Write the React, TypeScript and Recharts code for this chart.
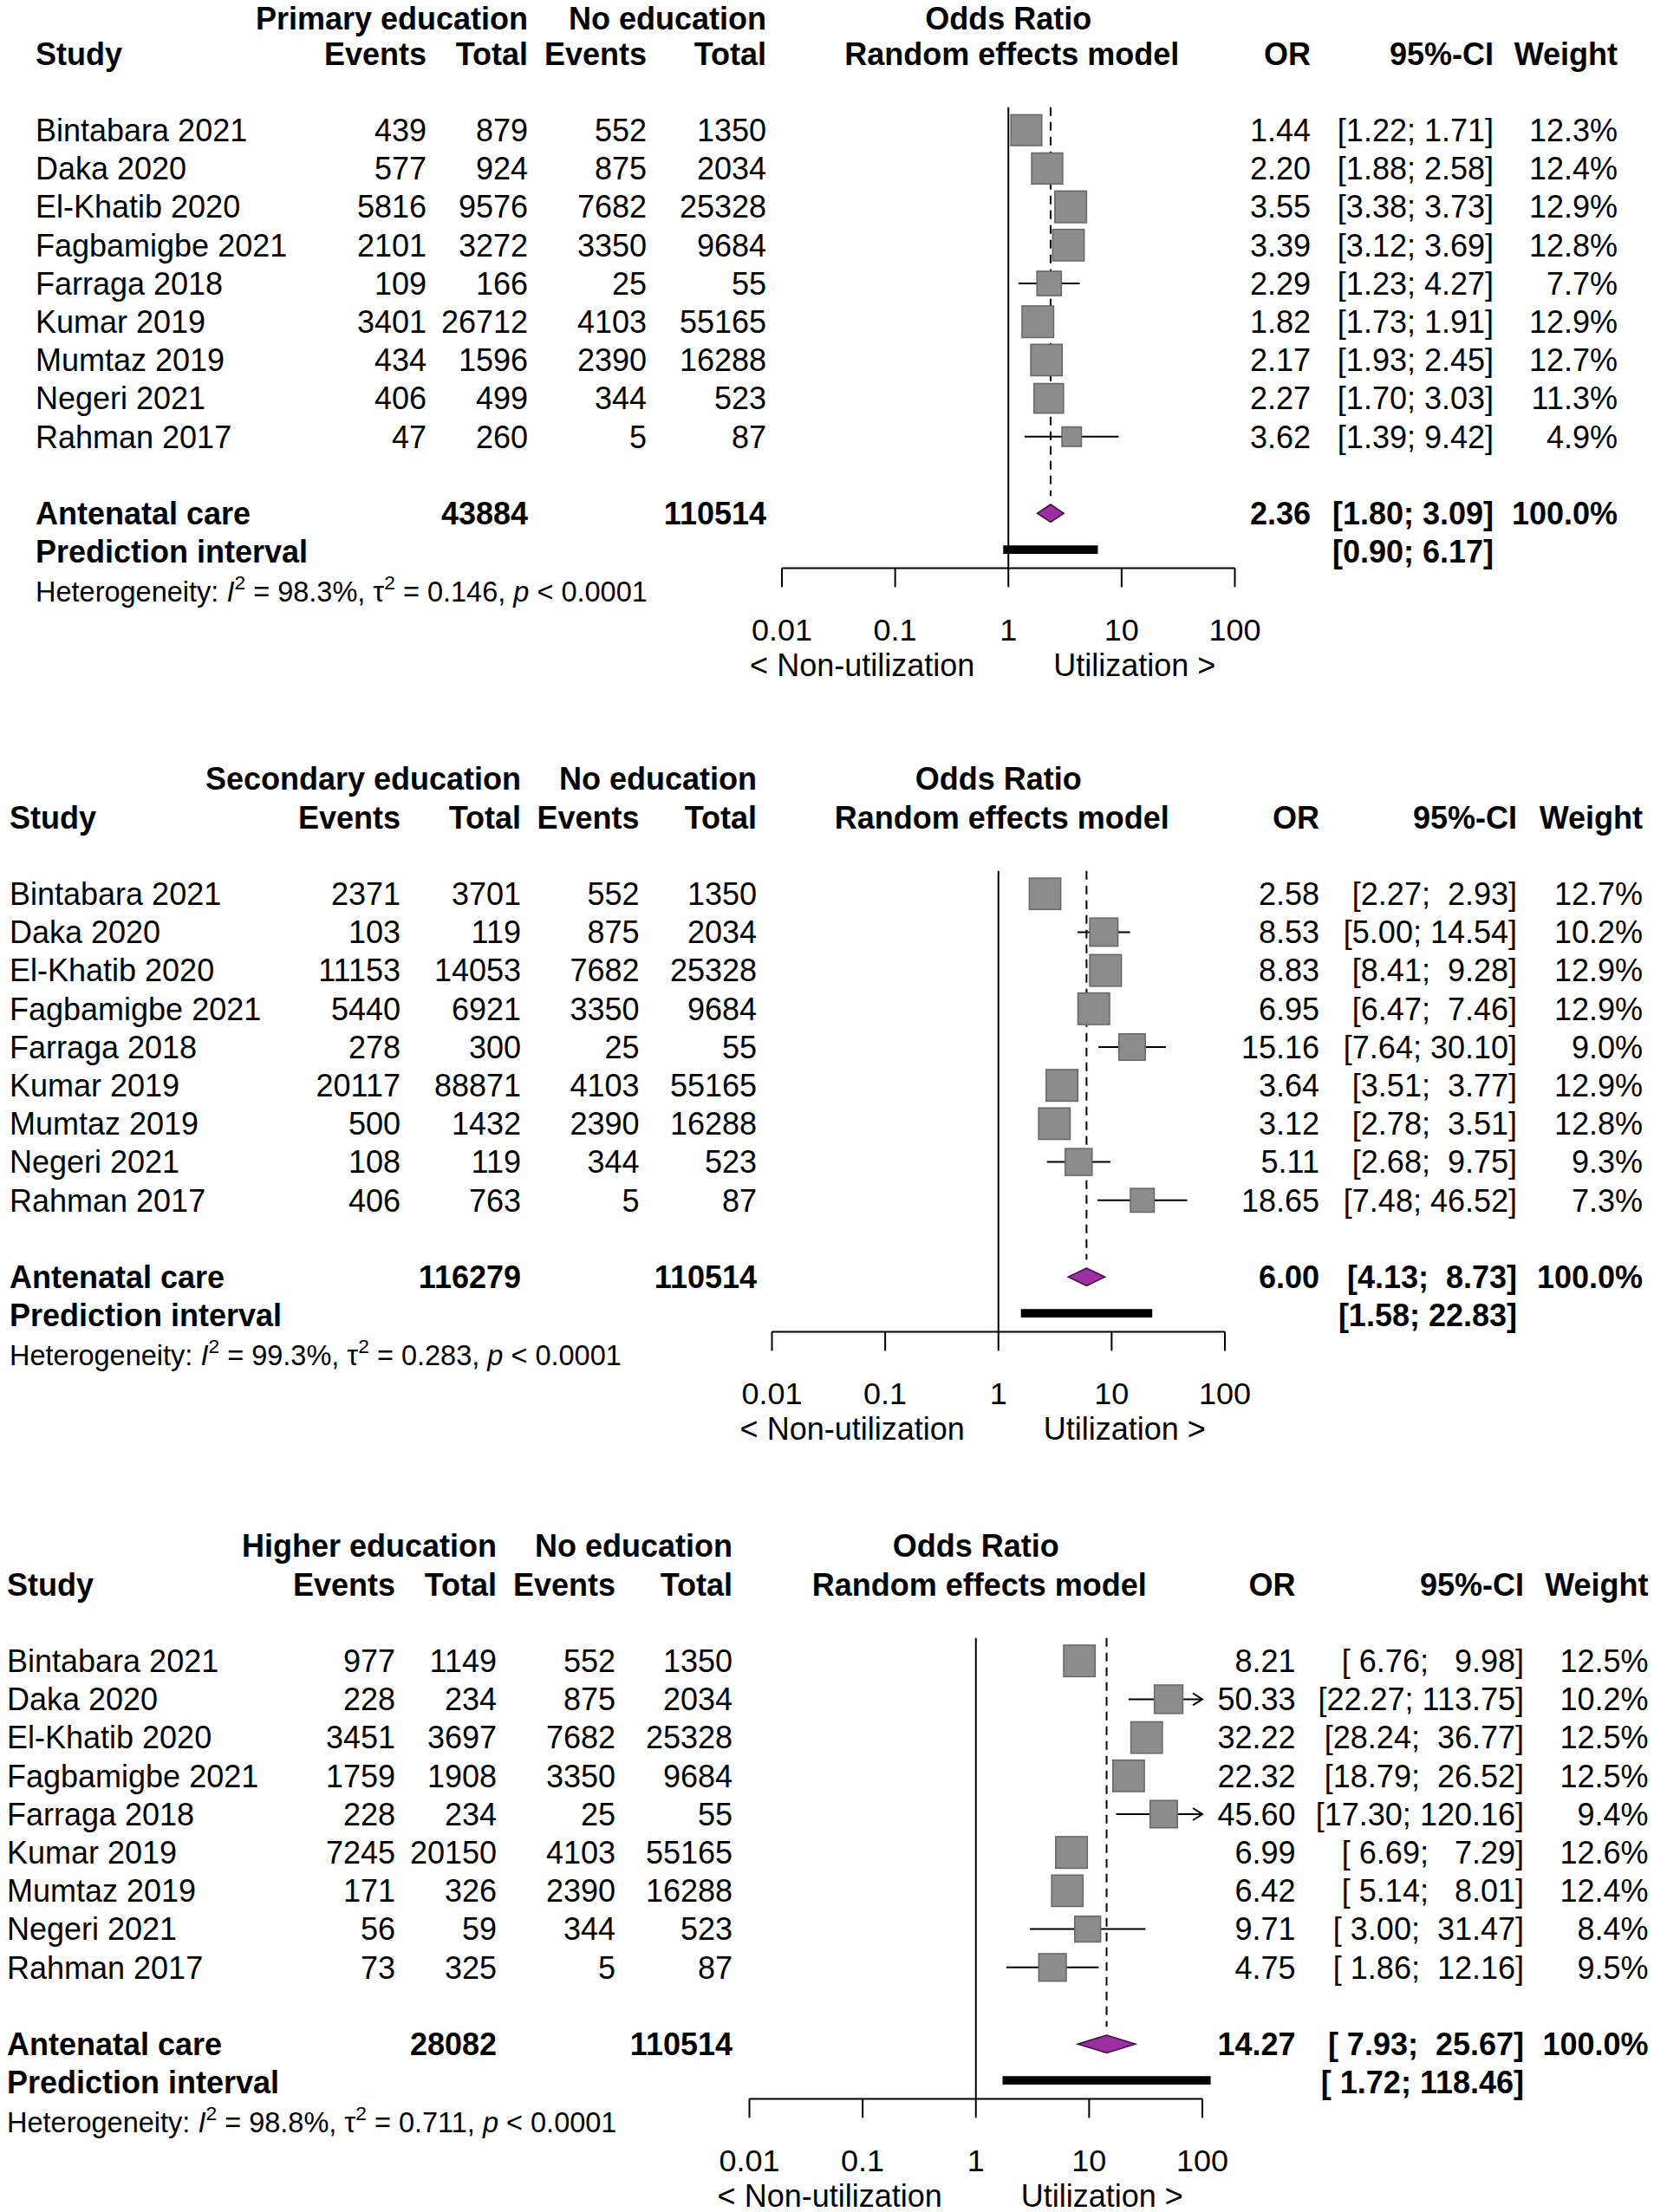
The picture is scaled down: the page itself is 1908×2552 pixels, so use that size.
import React from 'react';
import { ComposedChart, XAxis, YAxis, Scatter, ReferenceLine, ReferenceArea } from 'recharts';

const FONT = '"Liberation Sans", Arial, Helvetica, sans-serif';
const FS = 36;
const PITCH = 44.2;
const PURPLE = '#9c30a0';

const studies = [
  'Bintabara 2021', 'Daka 2020', 'El-Khatib 2020', 'Fagbamigbe 2021', 'Farraga 2018',
  'Kumar 2019', 'Mumtaz 2019', 'Negeri 2021', 'Rahman 2017',
];
const noEduEvents = [552, 875, 7682, 3350, 25, 4103, 2390, 344, 5];
const noEduTotal = [1350, 2034, 25328, 9684, 55, 55165, 16288, 523, 87];
const xTicks = [0.01, 0.1, 1, 10, 100];

// primary education
const primEvents = [439, 577, 5816, 2101, 109, 3401, 434, 406, 47];
const primTotal = [879, 924, 9576, 3272, 166, 26712, 1596, 499, 260];
const primOR = [1.44, 2.2, 3.55, 3.39, 2.29, 1.82, 2.17, 2.27, 3.62];
const primLo = [1.22, 1.88, 3.38, 3.12, 1.23, 1.73, 1.93, 1.7, 1.39];
const primHi = [1.71, 2.58, 3.73, 3.69, 4.27, 1.91, 2.45, 3.03, 9.42];
const primWeight = [12.3, 12.4, 12.9, 12.8, 7.7, 12.9, 12.7, 11.3, 4.9];
const primSummary = { or: 2.36, lo: 1.8, hi: 3.09, tot1: 43884, tot0: 110514, piLo: 0.9, piHi: 6.17, i2: '98.3%', tau2: '0.146' };

// secondary education
const secEvents = [2371, 103, 11153, 5440, 278, 20117, 500, 108, 406];
const secTotal = [3701, 119, 14053, 6921, 300, 88871, 1432, 119, 763];
const secOR = [2.58, 8.53, 8.83, 6.95, 15.16, 3.64, 3.12, 5.11, 18.65];
const secLo = [2.27, 5.0, 8.41, 6.47, 7.64, 3.51, 2.78, 2.68, 7.48];
const secHi = [2.93, 14.54, 9.28, 7.46, 30.1, 3.77, 3.51, 9.75, 46.52];
const secWeight = [12.7, 10.2, 12.9, 12.9, 9.0, 12.9, 12.8, 9.3, 7.3];
const secSummary = { or: 6.0, lo: 4.13, hi: 8.73, tot1: 116279, tot0: 110514, piLo: 1.58, piHi: 22.83, i2: '99.3%', tau2: '0.283' };

// higher education
const highEvents = [977, 228, 3451, 1759, 228, 7245, 171, 56, 73];
const highTotal = [1149, 234, 3697, 1908, 234, 20150, 326, 59, 325];
const highOR = [8.21, 50.33, 32.22, 22.32, 45.6, 6.99, 6.42, 9.71, 4.75];
const highLo = [6.76, 22.27, 28.24, 18.79, 17.3, 6.69, 5.14, 3.0, 1.86];
const highHi = [9.98, 113.75, 36.77, 26.52, 120.16, 7.29, 8.01, 31.47, 12.16];
const highWeight = [12.5, 10.2, 12.5, 12.5, 9.4, 12.6, 12.4, 8.4, 9.5];
const highSummary = { or: 14.27, lo: 7.93, hi: 25.67, tot1: 28082, tot0: 110514, piLo: 1.72, piHi: 118.46, i2: '98.8%', tau2: '0.711' };

const panels = [
  {
    group: 'Primary education', events: primEvents, total: primTotal, or: primOR, lo: primLo, hi: primHi, weight: primWeight, summary: primSummary,
    row0: 150, head1: -2.92, x001: 902, x100: 1424.5, studyX: 41, ev1: 492, tot1: 609, ev0: 746, tot0: 884, orR: 1512, ciR: 1723, wR: 1866,
  },
  {
    group: 'Secondary education', events: secEvents, total: secTotal, or: secOR, lo: secLo, hi: secHi, weight: secWeight, summary: secSummary,
    row0: 1031, head1: -3, x001: 890.5, x100: 1413, studyX: 11, ev1: 462, tot1: 601, ev0: 737.5, tot0: 873, orR: 1522, ciR: 1750, wR: 1895,
  },
  {
    group: 'Higher education', events: highEvents, total: highTotal, or: highOR, lo: highLo, hi: highHi, weight: highWeight, summary: highSummary,
    row0: 1916, head1: -3, x001: 864.5, x100: 1387, studyX: 8, ev1: 456, tot1: 573, ev0: 710, tot0: 845, orR: 1494.5, ciR: 1758, wR: 1901.5,
  },
];

type Panel = (typeof panels)[number];

const Y_MIN = -1;
const AXIS_Y = 11.43;
const X_AXIS_H = 130;
const SQ = 36.5;

const SquareShape = (props: any) => {
  const { cx, cy, payload } = props;
  const s = SQ * Math.sqrt(payload.w / payload.wmax);
  return <rect x={cx - s / 2} y={cy - s / 2} width={s} height={s} fill="#8c8c8c" stroke="#666" strokeWidth={1.5} />;
};

const ArrowLine = (props: any) => {
  const { x1, y1, x2, y2 } = props;
  return (
    <g>
      <line x1={x1} y1={y1} x2={x2} y2={y2} stroke="#000" strokeWidth={2} />
      <polyline points={`${x2 - 11},${y2 - 7} ${x2},${y2} ${x2 - 11},${y2 + 7}`} fill="none" stroke="#000" strokeWidth={2} />
    </g>
  );
};

const DiamondShape = (props: any) => {
  const { x, y, width, height } = props;
  const cx = x + width / 2;
  const cy = y + height / 2;
  return (
    <polygon
      points={`${x},${cy} ${cx},${y} ${x + width},${cy} ${cx},${y + height}`}
      fill={PURPLE}
      stroke="#3d0c3f"
      strokeWidth={1.5}
    />
  );
};

const AxisTick = (props: any) => {
  const { x, y, payload } = props;
  return (
    <text x={x} y={y + 60} textAnchor="middle" fontSize={FS} fontFamily={FONT} fill="#000">
      {String(payload.value)}
    </text>
  );
};

function ForestPlot({ p }: { p: Panel }) {
  const top = p.row0 + Y_MIN * PITCH;
  const plotH = (AXIS_Y - Y_MIN) * PITCH;
  const wmax = Math.max(...p.weight);
  const pts = p.or.map((v, i) => ({ x: v, y: i, w: p.weight[i], wmax }));
  const s = p.summary;
  return (
    <div style={{ position: 'absolute', left: 0, top }}>
      <ComposedChart width={1908} height={plotH + X_AXIS_H} margin={{ top: 0, bottom: 0, left: p.x001, right: 1908 - p.x100 }}>
        <XAxis
          type="number"
          dataKey="x"
          scale="log"
          domain={[0.01, 100]}
          allowDataOverflow
          ticks={xTicks}
          interval={0}
          height={X_AXIS_H}
          tickSize={22}
          tick={<AxisTick />}
          axisLine={{ stroke: '#000', strokeWidth: 2 }}
          tickLine={{ stroke: '#000', strokeWidth: 2 }}
        />
        <YAxis type="number" dataKey="y" domain={[Y_MIN, AXIS_Y]} allowDataOverflow reversed hide />
        <ReferenceLine segment={[{ x: 1, y: -0.6 }, { x: 1, y: AXIS_Y }]} stroke="#000" strokeWidth={2} ifOverflow="visible" />
        <ReferenceLine
          segment={[{ x: s.or, y: -0.6 }, { x: s.or, y: 9.55 }]}
          stroke="#000"
          strokeWidth={2}
          strokeDasharray="10 7"
          ifOverflow="visible"
        />
        <Scatter data={pts} shape={SquareShape} isAnimationActive={false} />
        {p.or.map((v, i) =>
          p.hi[i] > 100 ? (
            <ReferenceLine
              key={`ci${i}`}
              segment={[{ x: p.lo[i], y: i }, { x: 100, y: i }]}
              shape={ArrowLine}
              ifOverflow="visible"
            />
          ) : (
            <ReferenceLine
              key={`ci${i}`}
              segment={[{ x: p.lo[i], y: i }, { x: p.hi[i], y: i }]}
              stroke="#000"
              strokeWidth={2}
              ifOverflow="visible"
            />
          )
        )}
        {p.or.map((v, i) => (
          <ReferenceLine
            key={`pt${i}`}
            segment={[{ x: v, y: i - 0.12 }, { x: v, y: i + 0.12 }]}
            stroke="#000"
            strokeWidth={2}
            ifOverflow="visible"
          />
        ))}
        <ReferenceArea x1={s.lo} x2={s.hi} y1={9.77} y2={10.23} shape={DiamondShape} ifOverflow="visible" />
        <ReferenceArea x1={s.piLo} x2={s.piHi} y1={10.84} y2={11.06} fill="#000" fillOpacity={1} stroke="none" ifOverflow="visible" />
      </ComposedChart>
    </div>
  );
}

function fmtCI(lo: number, hi: number, wl: number, wh: number) {
  return `[${lo.toFixed(2).padStart(wl)}; ${hi.toFixed(2).padStart(wh)}]`;
}

function PanelText({ p }: { p: Panel }) {
  const yc = (idx: number) => p.row0 + idx * PITCH + 0.36 * FS;
  const x1 = (p.x001 + p.x100) / 2;
  const s = p.summary;
  const los = [...p.lo, s.lo, s.piLo].map((v) => v.toFixed(2).length);
  const his = [...p.hi, s.hi, s.piHi].map((v) => v.toFixed(2).length);
  const wl = Math.max(...los);
  const wh = Math.max(...his);
  const T = (x: number, idx: number, str: string, anchor: string, bold = false, key?: string) => (
    <text
      key={key}
      x={x}
      y={yc(idx)}
      textAnchor={anchor}
      fontWeight={bold ? 'bold' : 'normal'}
      style={{ whiteSpace: 'pre' }}
    >
      {str}
    </text>
  );
  const hs = 32.5;
  return (
    <g fontFamily={FONT} fontSize={FS} fill="#000">
      {T(p.tot1, p.head1, p.group, 'end', true)}
      {T(p.tot0, p.head1, 'No education', 'end', true)}
      {T(x1, p.head1, 'Odds Ratio', 'middle', true)}
      {T(p.studyX, -2, 'Study', 'start', true)}
      {T(p.ev1, -2, 'Events', 'end', true)}
      {T(p.tot1, -2, 'Total', 'end', true)}
      {T(p.ev0, -2, 'Events', 'end', true)}
      {T(p.tot0, -2, 'Total', 'end', true)}
      {T(x1 + 4, -2, 'Random effects model', 'middle', true)}
      {T(p.orR, -2, 'OR', 'end', true)}
      {T(p.ciR, -2, '95%-CI', 'end', true)}
      {T(p.wR, -2, 'Weight', 'end', true)}
      {studies.map((name, i) => (
        <g key={name}>
          {T(p.studyX, i, name, 'start')}
          {T(p.ev1, i, String(p.events[i]), 'end')}
          {T(p.tot1, i, String(p.total[i]), 'end')}
          {T(p.ev0, i, String(noEduEvents[i]), 'end')}
          {T(p.tot0, i, String(noEduTotal[i]), 'end')}
          {T(p.orR, i, p.or[i].toFixed(2), 'end')}
          {T(p.ciR, i, fmtCI(p.lo[i], p.hi[i], wl, wh), 'end')}
          {T(p.wR, i, `${p.weight[i].toFixed(1)}%`, 'end')}
        </g>
      ))}
      {T(p.studyX, 10, 'Antenatal care', 'start', true)}
      {T(p.tot1, 10, String(s.tot1), 'end', true)}
      {T(p.tot0, 10, String(s.tot0), 'end', true)}
      {T(p.orR, 10, s.or.toFixed(2), 'end', true)}
      {T(p.ciR, 10, fmtCI(s.lo, s.hi, wl, wh), 'end', true)}
      {T(p.wR, 10, '100.0%', 'end', true)}
      {T(p.studyX, 11, 'Prediction interval', 'start', true)}
      {T(p.ciR, 11, fmtCI(s.piLo, s.piHi, wl, wh), 'end', true)}
      <text x={p.studyX} y={p.row0 + 12.05 * PITCH + 0.36 * hs} fontSize={hs}>
        Heterogeneity: <tspan fontStyle="italic">I</tspan>
        <tspan fontSize={hs * 0.7} dy={-hs * 0.45}>2</tspan>
        <tspan dy={hs * 0.45}> = {s.i2}, τ</tspan>
        <tspan fontSize={hs * 0.7} dy={-hs * 0.45}>2</tspan>
        <tspan dy={hs * 0.45}> = {s.tau2}, </tspan>
        <tspan fontStyle="italic">p</tspan>
        <tspan> &lt; 0.0001</tspan>
      </text>
      {T(x1 - 39, 13.96, '< Non-utilization', 'end')}
      {T(x1 + 52, 13.96, 'Utilization >', 'start')}
    </g>
  );
}

export default function App() {
  return (
    <div style={{ position: 'absolute', left: 0, top: 0, width: 1908, height: 2552, background: '#fff', overflow: 'hidden' }}>
      {panels.map((p) => (
        <ForestPlot key={p.group} p={p} />
      ))}
      <svg width={1908} height={2552} style={{ position: 'absolute', left: 0, top: 0, pointerEvents: 'none' }}>
        {panels.map((p) => (
          <PanelText key={p.group} p={p} />
        ))}
      </svg>
    </div>
  );
}
